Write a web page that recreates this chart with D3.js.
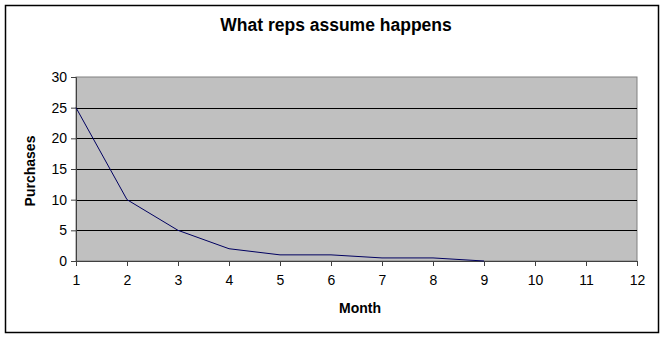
<!DOCTYPE html>
<html><head><meta charset="utf-8">
<script src="https://cdn.jsdelivr.net/npm/d3@7"></script>
<style>body{margin:0;background:#fff;}svg{display:block;font-family:"Liberation Sans",Arial,sans-serif;}</style>
</head><body>
<svg id="c" width="662" height="340"></svg>
<script>
const months = [1,2,3,4,5,6,7,8,9];
const purchases = [25,10,5,2,1,1,0.5,0.5,0];
const xTicks = [1,2,3,4,5,6,7,8,9,10,11,12];
const yTicks = [0,5,10,15,20,25,30];
const title = "What reps assume happens";
const xTitle = "Month";
const yTitle = "Purchases";

const svg = d3.select("#c");
// outer frame
svg.append("rect").attr("x",5.5).attr("y",5.5).attr("width",653).attr("height",327)
  .attr("fill","#fff").attr("stroke","#000").attr("stroke-width",1.5);

const x = d3.scaleLinear().domain([1,12]).range([76,637]);
const y = d3.scaleLinear().domain([0,30]).range([261,77]);

svg.append("rect").attr("x",x(1)).attr("y",y(30)).attr("width",x(12)-x(1)).attr("height",y(0)-y(30))
  .attr("fill","#c0c0c0").attr("stroke","#808080").attr("stroke-width",1);

// gridlines
svg.append("g").selectAll("line").data(yTicks.filter(d=>d>0&&d<30)).join("line")
  .attr("x1",x(1)).attr("x2",x(12)).attr("y1",d=>Math.round(y(d))+0.5).attr("y2",d=>Math.round(y(d))+0.5)
  .attr("stroke","#000").attr("stroke-width",1);

// axes
const yAxis = svg.append("g").attr("transform",`translate(${x(1)},0)`)
  .call(d3.axisLeft(y).tickValues(yTicks).tickSize(5).tickPadding(4));
const xAxis = svg.append("g").attr("transform",`translate(0,${y(0)})`)
  .call(d3.axisBottom(x).tickValues(xTicks).tickSize(5).tickPadding(9));
[yAxis,xAxis].forEach(a=>{
  a.select(".domain").attr("stroke","#404040");
  a.selectAll(".tick line").attr("stroke","#404040");
  a.selectAll(".tick text").attr("font-size",14).attr("fill","#000").attr("font-family","Liberation Sans, Arial, sans-serif");
});

// line
svg.append("path").datum(months.map((m,i)=>[m,purchases[i]]))
  .attr("fill","none").attr("stroke","#000060").attr("stroke-width",1)
  .attr("d",d3.line().x(d=>x(d[0])).y(d=>y(d[1])));

svg.append("text").attr("x",336).attr("y",31).attr("text-anchor","middle")
  .attr("font-size",17.5).attr("font-weight","bold").text(title);
svg.append("text").attr("x",360).attr("y",313).attr("text-anchor","middle")
  .attr("font-size",14).attr("font-weight","bold").text(xTitle);
svg.append("text").attr("transform","translate(35,171) rotate(-90)").attr("text-anchor","middle")
  .attr("font-size",14).attr("font-weight","bold").text(yTitle);
</script>
</body></html>
